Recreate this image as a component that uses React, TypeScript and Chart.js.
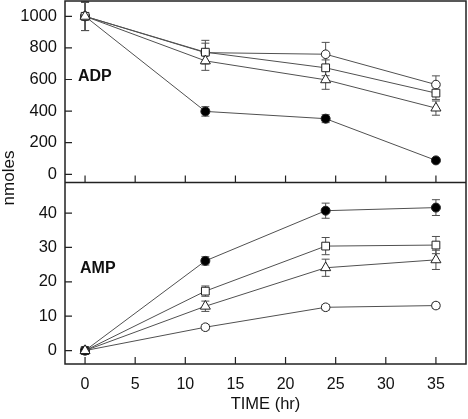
import React, { useEffect, useRef } from "react";
import { Chart, registerables } from "chart.js";
Chart.register(...registerables);

const TIME = [0, 12, 24, 35];
const X_TICKS = [0, 5, 10, 15, 20, 25, 30, 35];
const ADP_TICKS = [0, 200, 400, 600, 800, 1000];
const AMP_TICKS = [0, 10, 20, 30, 40];

const ADP_FILLED = [1000, 398, 352, 88];
const ADP_CIRCLE = [1000, 770, 760, 568];
const ADP_SQUARE = [1000, 773, 674, 514];
const ADP_TRIANGLE = [1000, 718, 598, 419];
const ADP_FILLED_ERR = [90, 30, 25, 10];
const ADP_CIRCLE_ERR = [90, 60, 75, 55];
const ADP_SQUARE_ERR = [90, 75, 50, 40];
const ADP_TRIANGLE_ERR = [90, 60, 60, 45];

const AMP_FILLED = [0, 26.1, 40.7, 41.6];
const AMP_SQUARE = [0, 17.3, 30.4, 30.7];
const AMP_TRIANGLE = [0, 12.9, 24.1, 26.4];
const AMP_CIRCLE = [0, 6.8, 12.6, 13.1];
const AMP_FILLED_ERR = [0.5, 1.2, 2.2, 2.3];
const AMP_SQUARE_ERR = [0.5, 1.5, 2.5, 2.5];
const AMP_TRIANGLE_ERR = [0.5, 1.5, 2.5, 2.8];
const AMP_CIRCLE_ERR = [0.5, 0.8, 0.8, 0.8];

const FONT = "'Liberation Sans', Arial, sans-serif";
const INK = "#222";
const LINE = "#505050";

function pts(ys: number[]) {
  return TIME.map((t, i) => ({ x: t, y: ys[i] }));
}

function ds(ys: number[], errs: number[], axis: string, style: string, filled: boolean, r: number) {
  return {
    data: pts(ys),
    errs,
    yAxisID: axis,
    borderColor: LINE,
    borderWidth: 1,
    pointStyle: style,
    pointRadius: r,
    pointBorderColor: INK,
    pointBorderWidth: 1,
    pointBackgroundColor: filled ? "#000" : "#fff",
    tension: 0,
    clip: false,
  } as any;
}

const zeroPad = (s: any) => {
  s.paddingTop = 0;
  s.paddingBottom = 0;
  s.paddingLeft = 0;
  s.paddingRight = 0;
};

const decor = {
  id: "decor",
  beforeDatasetsDraw(chart: any) {
    const ctx = chart.ctx;
    ctx.save();
    ctx.strokeStyle = LINE;
    ctx.lineWidth = 1;
    chart.data.datasets.forEach((d: any) => {
      const ys = chart.scales[d.yAxisID];
      const xs = chart.scales.x;
      d.data.forEach((p: any, i: number) => {
        const e = d.errs[i];
        const px = xs.getPixelForValue(p.x);
        const y1 = ys.getPixelForValue(p.y + e);
        const y2 = ys.getPixelForValue(p.y - e);
        ctx.beginPath();
        ctx.moveTo(px, y1);
        ctx.lineTo(px, y2);
        ctx.moveTo(px - 4, y1);
        ctx.lineTo(px + 4, y1);
        ctx.moveTo(px - 4, y2);
        ctx.lineTo(px + 4, y2);
        ctx.stroke();
      });
    });
    ctx.restore();
  },
  afterDraw(chart: any) {
    const ctx = chart.ctx;
    const ca = chart.chartArea;
    const yT = chart.scales.yTop;
    const yB = chart.scales.yBot;
    const xs = chart.scales.x;
    ctx.save();
    ctx.strokeStyle = INK;
    ctx.lineWidth = 1.5;
    ctx.strokeRect(ca.left, ca.top, ca.right - ca.left, ca.bottom - ca.top);
    ctx.beginPath();
    ctx.moveTo(ca.left, yB.top);
    ctx.lineTo(ca.right, yB.top);
    ctx.stroke();
    ctx.lineWidth = 1.2;
    ctx.beginPath();
    ADP_TICKS.forEach((v) => {
      const y = yT.getPixelForValue(v);
      ctx.moveTo(ca.left, y);
      ctx.lineTo(ca.left + 7, y);
    });
    AMP_TICKS.forEach((v) => {
      const y = yB.getPixelForValue(v);
      ctx.moveTo(ca.left, y);
      ctx.lineTo(ca.left + 7, y);
    });
    X_TICKS.forEach((v) => {
      const x = xs.getPixelForValue(v);
      ctx.moveTo(x, yT.bottom);
      ctx.lineTo(x, yT.bottom - 7);
      ctx.moveTo(x, yB.bottom);
      ctx.lineTo(x, yB.bottom - 7);
    });
    ctx.stroke();

    ctx.fillStyle = "#111";
    ctx.font = `bold 16px ${FONT}`;
    ctx.textAlign = "left";
    ctx.textBaseline = "middle";
    ctx.fillText("ADP", ca.left + 13, yT.getPixelForValue(620));
    ctx.fillText("AMP", ca.left + 15, yB.getPixelForValue(24));

    ctx.font = `17px ${FONT}`;
    ctx.textAlign = "center";
    ctx.translate(9, 178);
    ctx.rotate(-Math.PI / 2);
    ctx.fillText("nmoles", 0, 0);
    ctx.restore();
  },
};

export default function App() {
  const ref = useRef<HTMLCanvasElement>(null);
  useEffect(() => {
    const yCommon = {
      type: "linear",
      position: "left",
      stack: "v",
      stackWeight: 1,
      afterFit: (s: any) => {
        s.width = 65;
        zeroPad(s);
      },
      grid: { display: false, drawTicks: false },
      border: { display: false },
      ticks: { padding: 8, color: "#111", autoSkip: false, font: { family: FONT, size: 16.5 }, callback: (v: any) => String(v) },
    };
    const chart = new Chart(ref.current!, {
      type: "line",
      data: {
        datasets: [
          ds(ADP_TRIANGLE, ADP_TRIANGLE_ERR, "yTop", "triangle", false, 5.8),
          ds(ADP_SQUARE, ADP_SQUARE_ERR, "yTop", "rect", false, 5.5),
          ds(ADP_CIRCLE, ADP_CIRCLE_ERR, "yTop", "circle", false, 4.3),
          ds(ADP_FILLED, ADP_FILLED_ERR, "yTop", "circle", true, 4.5),
          ds(AMP_TRIANGLE, AMP_TRIANGLE_ERR, "yBot", "triangle", false, 5.8),
          ds(AMP_FILLED, AMP_FILLED_ERR, "yBot", "circle", true, 4.5),
          ds(AMP_SQUARE, AMP_SQUARE_ERR, "yBot", "rect", false, 5.5),
          ds(AMP_CIRCLE, AMP_CIRCLE_ERR, "yBot", "circle", false, 4.3),
        ],
      },
      options: {
        animation: false,
        responsive: true,
        maintainAspectRatio: false,
        layout: { autoPadding: false, padding: { top: 1, right: 2, left: 0, bottom: 0 } },
        plugins: { legend: { display: false }, tooltip: { enabled: false } },
        scales: {
          x: {
            type: "linear",
            min: -2,
            max: 38,
            afterBuildTicks: (s: any) => {
              s.ticks = X_TICKS.map((v) => ({ value: v }));
            },
            afterFit: (s: any) => {
              s.height = 55;
              zeroPad(s);
            },
            grid: { display: false, drawTicks: false },
            border: { display: false },
            ticks: { padding: 11, color: "#111", font: { family: FONT, size: 16 }, maxRotation: 0, autoSkip: false },
            title: { display: true, text: "TIME (hr)", color: "#111", font: { family: FONT, size: 16.5 }, padding: { top: 0, bottom: 5 } },
          },
          yBot: {
            ...yCommon,
            min: -3.9,
            max: 48.9,
            afterBuildTicks: (s: any) => {
              s.ticks = AMP_TICKS.map((v) => ({ value: v }));
            },
          },
          yTop: {
            ...yCommon,
            min: -52,
            max: 1097,
            afterBuildTicks: (s: any) => {
              s.ticks = ADP_TICKS.map((v) => ({ value: v }));
            },
          },
        },
      } as any,
      plugins: [decor],
    });
    return () => chart.destroy();
  }, []);
  return (
    <div style={{ position: "fixed", left: 0, top: 0, width: 468, height: 419, background: "#fff" }}>
      <canvas ref={ref} />
    </div>
  );
}
